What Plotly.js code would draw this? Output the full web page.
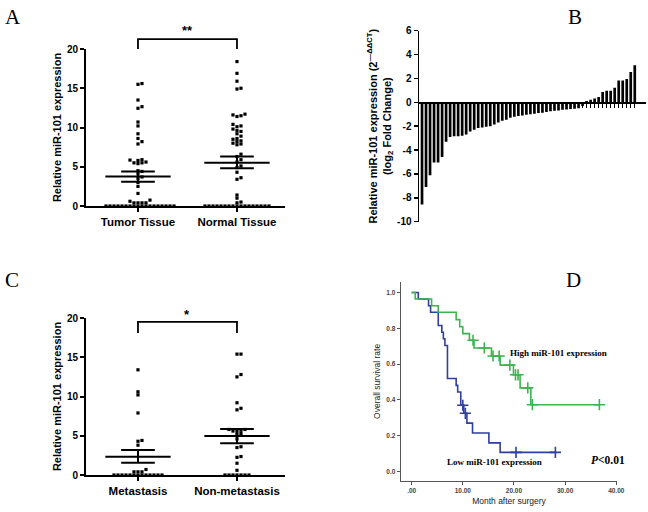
<!DOCTYPE html>
<html><head><meta charset="utf-8">
<script src="https://cdn.plot.ly/plotly-3.0.1.min.js"></script>
<style>html,body{margin:0;padding:0;background:#fff}#chart{width:648px;height:512px}</style>
</head><body><div id="chart"></div>
<script>
// ---------------- DATA ----------------
// Panel A
const catsA = ['Tumor Tissue', 'Normal Tissue'];
const tumorVals = [15.6, 15.5, 13.5, 12.65, 12.45, 10.7, 10.2, 9.2, 8.6, 8.2, 7.9,
  5.9, 5.85, 5.8, 5.6, 5.5, 5.5, 5.4, 4.5, 4.4, 4.1, 3.7, 3.5, 3.0, 2.5, 1.6, 0.75, 0.6,
  0.4, 0.4, 0.4, 0.4,
  0, 0, 0, 0, 0, 0, 0, 0, 0, 0, 0, 0, 0, 0, 0, 0, 0, 0];
const normalVals = [18.4, 16.9, 15.9, 15.0, 14.9, 11.7, 11.6, 11.5, 11.4, 10.4, 10.2, 10.1,
  9.8, 9.6, 9.5, 9.2, 8.9, 8.6, 8.5, 8.3, 8.2, 8.0, 7.9, 7.8, 6.6, 6.3, 5.9, 5.6, 5.1, 4.9,
  4.3, 3.6, 3.4, 1.4, 1.0, 0.5, 0.4,
  0, 0, 0, 0, 0, 0, 0, 0, 0, 0, 0, 0, 0, 0, 0, 0, 0];
const meanA = [3.75, 5.52];
const semLoA = [3.1, 4.8];
const semHiA = [4.4, 6.3];
const sigA = '**';

// Panel B (sorted log2 fold change per sample)
const barVals = [-8.56, -7.1, -6.1, -5.05, -5.05, -4.57, -3.3, -2.9, -2.85, -2.85, -2.8, -2.7,
  -2.45, -2.3, -2.15, -2.1, -2.05, -2.0, -1.85, -1.7, -1.55, -1.45, -1.3, -1.2, -1.15, -1.1,
  -1.05, -1.0, -0.95, -0.9, -0.88, -0.82, -0.75, -0.7, -0.68, -0.62, -0.6, -0.56, -0.53, -0.5,
  -0.3, 0.11, 0.22, 0.33, 0.45, 0.87, 0.98, 0.98, 1.23, 1.82, 1.82, 1.96, 2.54, 3.1];
const barTicksY = [-10, -8, -6, -4, -2, 0, 2, 4, 6];
const barTickText = ['-10', '-8', '-6', '-4', '-2', '0', '2', '4', '6'];

// Panel C
const catsC = ['Metastasis', 'Non-metastasis'];
const metVals = [13.4, 10.6, 10.2, 7.9, 4.4, 4.3, 3.8, 0.7, 0.4, 0.4, 0.4,
  0, 0, 0, 0, 0, 0, 0, 0, 0, 0, 0, 0, 0];
const nonMetVals = [15.4, 15.4, 12.8, 12.5, 9.2, 8.5, 8.3, 5.8, 5.7, 5.6, 5.6, 5.8, 5.3, 5.2,
  4.6, 3.6, 3.5, 2.35, 2.25, 1.5, 0.6, 0, 0, 0, 0, 0, 0, 0];
const meanC = [2.33, 4.97];
const semLoC = [1.57, 4.04];
const semHiC = [3.18, 5.86];
const sigC = '*';

// Panel D (Kaplan-Meier)
const highT = [0, 0.7, 3.9, 5.2, 8.7, 9.4, 10.0, 11.3, 12.2, 15.6, 17.3, 19.9, 21.2, 23.3, 36.7];
const highS = [1.0, 0.963, 0.926, 0.889, 0.848, 0.808, 0.77, 0.733, 0.69, 0.645, 0.594, 0.54, 0.467, 0.373, 0.373];
const highCensor = [12.0, 14.2, 15.9, 17.1, 19.2, 20.3, 20.8, 22.7, 23.6, 36.7];
const lowT = [0, 1.3, 3.3, 3.7, 5.2, 5.9, 6.2, 6.5, 7.0, 8.7, 9.0, 9.6, 10.2, 10.8, 11.9, 15.1, 17.3, 28.1];
const lowS = [1.0, 0.963, 0.926, 0.889, 0.815, 0.778, 0.741, 0.704, 0.519, 0.481, 0.444, 0.37, 0.325, 0.27, 0.215, 0.16, 0.107, 0.107];
const lowCensor = [10.0, 10.5, 20.4, 28.1];
const kmXTicks = [0, 10, 20, 30, 40];
const kmXText = ['.00', '10.00', '20.00', '30.00', '40.00'];
const kmYTicks = [0, 0.2, 0.4, 0.6, 0.8, 1.0];
const kmYText = ['0.0', '0.2', '0.4', '0.6', '0.8', '1.0'];

// ---------------- GEOMETRY ----------------
const W = 648, H = 512;
const dX = (a, b) => [a / W, b / W];
const dY = (bottom, top) => [1 - bottom / H, 1 - top / H];
const ARIAL = 'Arial, "Liberation Sans", sans-serif';
const SERIF = '"Times New Roman", "Liberation Serif", serif';

const axA = {x: {domain: dX(86, 285), range: [-0.525, 1.485]}, y: {domain: dY(206, 49), range: [0, 20]}};
const axB = {x: {domain: dX(419, 646), range: [-0.75, 55.8]}, y: {domain: dY(221.7, 30.7), range: [-10, 6]}};
const axC = {x: {domain: dX(86, 285), range: [-0.525, 1.485]}, y: {domain: dY(475, 318), range: [0, 20]}};
const axD = {x: {domain: dX(400.7, 617.3), range: [-2.14, 40.2]}, y: {domain: dY(481, 281.7), range: [-0.053, 1.06]}};

function toPaper(ax, v) {
  return ax.domain[0] + (v - ax.range[0]) / (ax.range[1] - ax.range[0]) * (ax.domain[1] - ax.domain[0]);
}
function pxPerUnit(ax, len) {
  return (ax.domain[1] - ax.domain[0]) * len / (ax.range[1] - ax.range[0]);
}

// beeswarm offsets computed from values
function swarm(values, center, panel) {
  const ppx = pxPerUnit(panel.x, W), ppy = pxPerUnit(panel.y, H);
  const step = 4;
  const order = values.map((v, i) => i).sort((a, b) => values[a] - values[b]);
  const placed = [];
  const out = new Array(values.length);
  for (const i of order) {
    const yp = values[i] * ppy;
    let off = 0;
    for (let k = 0; k < 200; k++) {
      const m = k === 0 ? 0 : (k % 2 === 1 ? (k + 1) / 2 : -k / 2);
      off = m * step;
      if (placed.every(p => !(Math.abs(p.x - off) < 3.5 && Math.abs(p.y - yp) < 3.0))) break;
    }
    placed.push({x: off, y: yp});
    out[i] = center + off / ppx;
  }
  return out;
}

function dotTraces(groups, panel, xa, ya) {
  const traces = [];
  groups.forEach((vals, i) => {
    traces.push({
      type: 'scatter', mode: 'markers', xaxis: xa, yaxis: ya, cliponaxis: false,
      x: swarm(vals, i, panel), y: vals,
      marker: {symbol: 'square', size: 3.2, color: '#000'}, hoverinfo: 'y'
    });
  });
  return traces;
}
function meanTrace(mean, lo, hi, xa, ya) {
  const x = [], y = [];
  mean.forEach((m, i) => {
    x.push(i - 0.33, i + 0.33, null, i - 0.17, i + 0.17, null, i - 0.17, i + 0.17, null, i, i, null);
    y.push(m, m, null, hi[i], hi[i], null, lo[i], lo[i], null, lo[i], hi[i], null);
  });
  return {type: 'scatter', mode: 'lines', x, y, xaxis: xa, yaxis: ya,
    line: {color: '#000', width: 2}, hoverinfo: 'skip', cliponaxis: false};
}
function stepAt(T, S, t) {
  let s = S[0];
  for (let i = 0; i < T.length; i++) if (T[i] <= t) s = S[i];
  return s;
}

const traces = [];
// Panel A
traces.push(...dotTraces([tumorVals, normalVals], axA, 'x', 'y'));
traces.push(meanTrace(meanA, semLoA, semHiA, 'x', 'y'));
// Panel B
traces.push({type: 'bar', x: barVals.map((v, i) => i), y: barVals, xaxis: 'x2', yaxis: 'y2',
  marker: {color: '#000', line: {width: 0}}, hoverinfo: 'y'});
// Panel C
traces.push(...dotTraces([metVals, nonMetVals], axC, 'x3', 'y3'));
traces.push(meanTrace(meanC, semLoC, semHiC, 'x3', 'y3'));
// Panel D
const BLUE = '#2f3f9a', GREEN = '#3fb34f';
traces.push({type: 'scatter', mode: 'lines', x: lowT, y: lowS, xaxis: 'x4', yaxis: 'y4',
  line: {shape: 'hv', color: BLUE, width: 1.6}, hoverinfo: 'skip'});
traces.push({type: 'scatter', mode: 'lines', x: highT, y: highS, xaxis: 'x4', yaxis: 'y4',
  line: {shape: 'hv', color: GREEN, width: 1.6}, hoverinfo: 'skip'});
traces.push({type: 'scatter', mode: 'markers', x: lowCensor, y: lowCensor.map(t => stepAt(lowT, lowS, t)),
  xaxis: 'x4', yaxis: 'y4', cliponaxis: false,
  marker: {symbol: 'cross-thin', size: 8, line: {color: BLUE, width: 1.6}}, hoverinfo: 'skip'});
traces.push({type: 'scatter', mode: 'markers', x: highCensor, y: highCensor.map(t => stepAt(highT, highS, t)),
  xaxis: 'x4', yaxis: 'y4', cliponaxis: false,
  marker: {symbol: 'cross-thin', size: 8, line: {color: GREEN, width: 1.6}}, hoverinfo: 'skip'});

// ---------------- AXES ----------------
const boldTick = (s) => ({family: ARIAL, size: s, color: '#000', weight: 'bold'});
function catX(panel, anchor, cats) {
  return {domain: panel.x.domain, range: panel.x.range, anchor, tickvals: cats.map((c, i) => i), ticktext: cats,
    ticks: 'outside', ticklen: 4, tickwidth: 2, tickcolor: '#000', showline: true, linewidth: 2, linecolor: '#000',
    zeroline: false, showgrid: false, tickfont: boldTick(11.5), fixedrange: true};
}
function valY(panel, anchor) {
  return {domain: panel.y.domain, range: panel.y.range, anchor, tickvals: [0, 5, 10, 15, 20],
    ticks: 'outside', ticklen: 4, tickwidth: 2, tickcolor: '#000', showline: true, linewidth: 2, linecolor: '#000',
    zeroline: false, showgrid: false, tickfont: boldTick(10), fixedrange: true,
    title: {text: 'Relative miR-101 expression', font: {family: ARIAL, size: 11, weight: 'bold', color: '#000'}, standoff: 3}};
}
const zeroPos = toPaper(axB.y, 0);

const layout = {
  width: W, height: H, margin: {l: 0, r: 0, t: 0, b: 0},
  paper_bgcolor: '#fff', plot_bgcolor: '#fff', showlegend: false, bargap: 0.33,
  font: {family: ARIAL, color: '#000'},
  xaxis: catX(axA, 'y', catsA),
  yaxis: valY(axA, 'x'),
  xaxis2: {domain: axB.x.domain, range: axB.x.range, anchor: 'free', position: zeroPos,
    tickvals: barVals.map((v, i) => i), showticklabels: false, ticks: 'outside', ticklen: 4, tickwidth: 1.2,
    tickcolor: '#000', showline: true, linewidth: 1.5, linecolor: '#000', zeroline: false, showgrid: false, fixedrange: true},
  yaxis2: {domain: axB.y.domain, range: axB.y.range, anchor: 'x2', tickvals: barTicksY, ticktext: barTickText,
    ticks: 'outside', ticklen: 4, tickwidth: 1.5, tickcolor: '#000', showline: true, linewidth: 1.5, linecolor: '#000',
    zeroline: false, showgrid: false, tickfont: boldTick(10), fixedrange: true,
    title: {text: 'Relative miR-101 expression (2<sup>—ΔΔCT</sup>)<br>(log<sub>2</sub> Fold Change)',
      font: {family: ARIAL, size: 11, weight: 'bold', color: '#000'}, standoff: 3}},
  xaxis3: catX(axC, 'y3', catsC),
  yaxis3: valY(axC, 'x3'),
  xaxis4: {domain: axD.x.domain, range: axD.x.range, anchor: 'y4', tickvals: kmXTicks, ticktext: kmXText,
    ticks: 'outside', ticklen: 3, tickwidth: 1, tickcolor: '#555', showline: true, linewidth: 1, linecolor: '#555',
    zeroline: false, showgrid: false, tickfont: {family: ARIAL, size: 6.5, color: '#444', weight: 'bold'}, fixedrange: true,
    title: {text: 'Month after surgery', font: {family: ARIAL, size: 8.5, color: '#222'}, standoff: 5}},
  yaxis4: {domain: axD.y.domain, range: axD.y.range, anchor: 'x4', tickvals: kmYTicks, ticktext: kmYText,
    ticks: 'outside', ticklen: 3, tickwidth: 1, tickcolor: '#555', showline: true, linewidth: 1, linecolor: '#555',
    zeroline: false, showgrid: false, tickfont: {family: ARIAL, size: 6.5, color: '#444', weight: 'bold'}, fixedrange: true,
    title: {text: 'Overall survival rate', font: {family: ARIAL, size: 8.5, color: '#222'}, standoff: 4}},
  shapes: [], annotations: []
};

// significance brackets
function bracket(panel, top, foot, label, labelY) {
  const x0 = toPaper(panel.x, 0), x1 = toPaper(panel.x, 1);
  const yt = toPaper(panel.y, top), yf = toPaper(panel.y, foot);
  layout.shapes.push({type: 'path', xref: 'paper', yref: 'paper',
    path: `M${x0},${yf} L${x0},${yt} L${x1},${yt} L${x1},${yf}`, line: {color: '#000', width: 1.8}});
  layout.annotations.push({xref: 'paper', yref: 'paper', x: (x0 + x1) / 2, y: toPaper(panel.y, labelY),
    text: label, showarrow: false, font: {family: ARIAL, size: 13, weight: 'bold', color: '#000'},
    xanchor: 'center', yanchor: 'middle'});
}
bracket(axA, 21.27, 20, sigA, 22.4);
bracket(axC, 19.5, 18.1, sigC, 20.5);

// panel letters
[['A', 12.5, 17], ['B', 575, 17], ['C', 12, 280], ['D', 573, 280]].forEach(([t, x, y]) => {
  layout.annotations.push({xref: 'paper', yref: 'paper', x: x / W, y: 1 - y / H, text: t, showarrow: false,
    xanchor: 'center', yanchor: 'middle', font: {family: SERIF, size: 21, color: '#000'}});
});

// KM labels
layout.annotations.push({xref: 'x4', yref: 'y4', x: 18.8, y: 0.663, xanchor: 'left', yanchor: 'middle', showarrow: false,
  text: 'High miR-101 expression', font: {family: SERIF, size: 9, weight: 'bold', color: '#000'}});
layout.annotations.push({xref: 'x4', yref: 'y4', x: 6.5, y: 0.054, xanchor: 'left', yanchor: 'middle', showarrow: false,
  text: 'Low miR-101 expression', font: {family: SERIF, size: 9, weight: 'bold', color: '#000'}});
layout.annotations.push({xref: 'x4', yref: 'y4', x: 34.7, y: 0.066, xanchor: 'left', yanchor: 'middle', showarrow: false,
  text: '<i>P</i>&lt;0.01', font: {family: SERIF, size: 11.5, weight: 'bold', color: '#000'}});

Plotly.newPlot('chart', traces, layout, {staticPlot: true, displayModeBar: false});
</script></body></html>
